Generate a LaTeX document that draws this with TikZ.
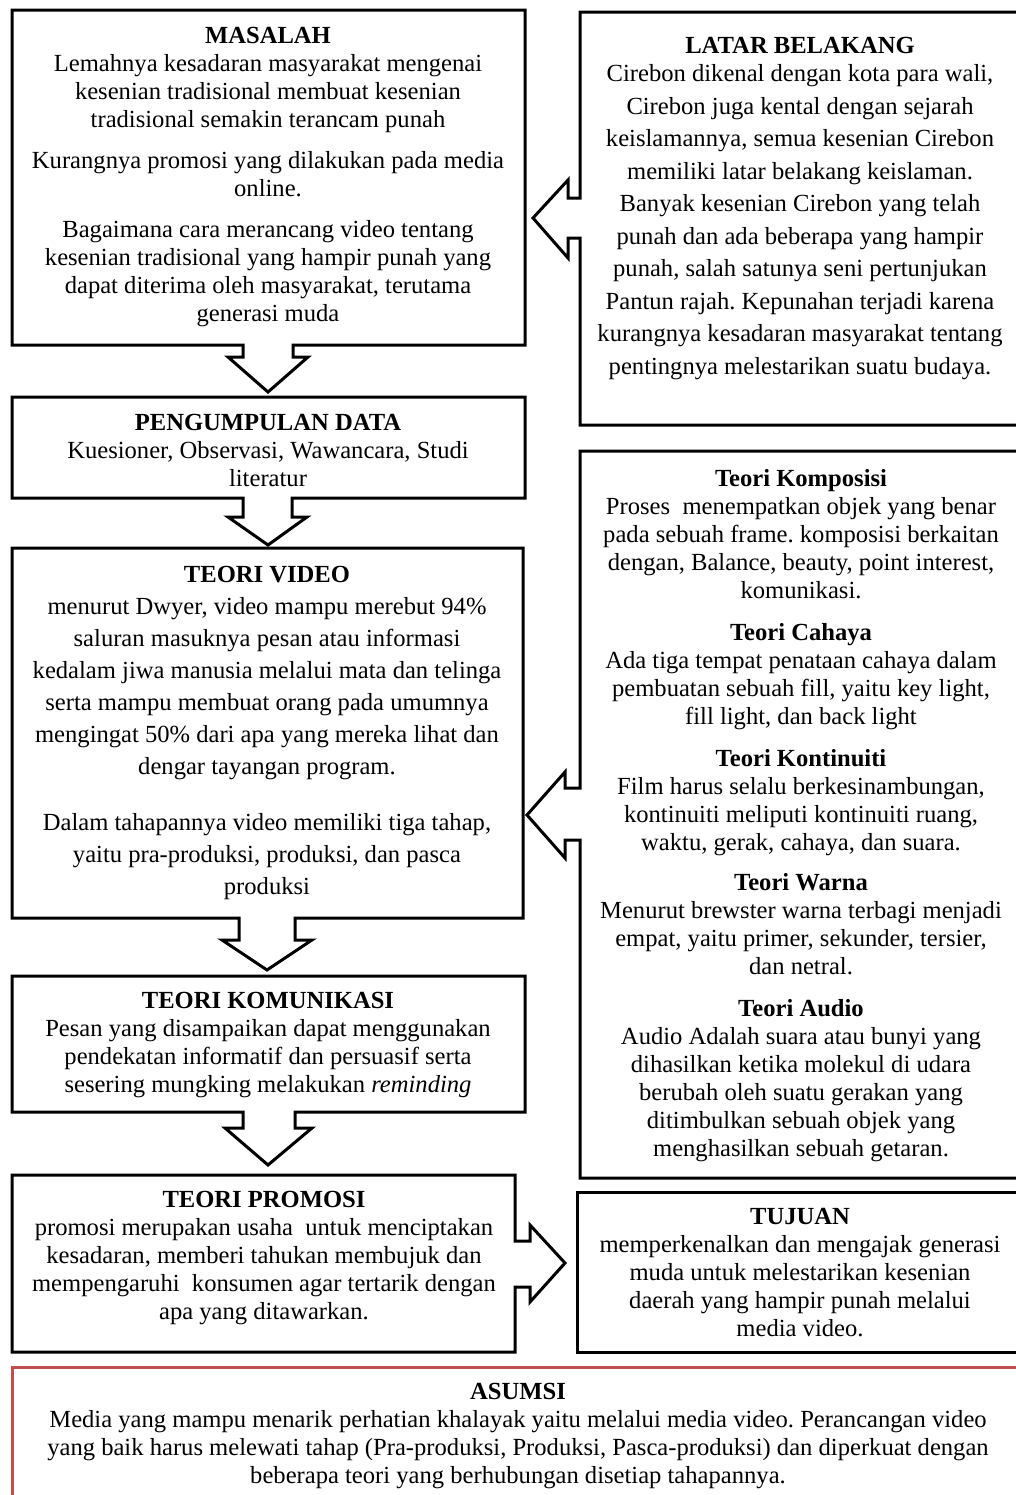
\documentclass[tikz,border=0pt]{standalone}
\usepackage{fontspec}
\setmainfont{Liberation Serif}
\definecolor{asred}{RGB}{192,80,77}
\frenchspacing
\begin{document}
\begin{tikzpicture}[x=0.5pt,y=-0.5pt,
  outline/.style={line width=1.5pt, line join=miter},
  redline/.style={line width=1.5pt, draw=asred},
  txt/.style={align=center, inner sep=0pt, anchor=north, font=\fontsize{12.3pt}{14pt}\selectfont},
  txtwide/.style={txt, font=\fontsize{12.3pt}{16pt}\selectfont},
  txtlatar/.style={txt, font=\fontsize{12.3pt}{16.25pt}\selectfont}]
\useasboundingbox (0,0) rectangle (1016,1495);
\clip (0,0) rectangle (1016,1495);
\fill[white] (0,0) rectangle (1016,1495);

% ---------- left column outlines (boxes with block arrows) ----------
% MASALAH
\draw[outline] (12,10) -- (525,10) -- (525,345) -- (293,345) -- (293,357) -- (308,357)
  -- (268,392) -- (228,357) -- (243,357) -- (243,345) -- (12,345) -- cycle;
% PENGUMPULAN DATA
\draw[outline] (12,397) -- (525,397) -- (525,498) -- (292,498) -- (292,517) -- (307,517)
  -- (268,545) -- (228,517) -- (243,517) -- (243,498) -- (12,498) -- cycle;
% TEORI VIDEO
\draw[outline] (12,548) -- (523,548) -- (523,918) -- (295,918) -- (295,940) -- (312,940)
  -- (267,970) -- (222,940) -- (239,940) -- (239,918) -- (12,918) -- cycle;
% TEORI KOMUNIKASI
\draw[outline] (12,976) -- (525,976) -- (525,1112) -- (295,1112) -- (295,1128) -- (312,1128)
  -- (268,1165) -- (225,1128) -- (243,1128) -- (243,1112) -- (12,1112) -- cycle;
% TEORI PROMOSI
\draw[outline] (12,1175) -- (515,1175) -- (515,1241) -- (530,1241) -- (530,1225)
  -- (565,1263) -- (530,1302) -- (530,1287) -- (515,1287) -- (515,1352) -- (12,1352) -- cycle;

% ---------- right column outlines ----------
% LATAR BELAKANG
\draw[outline] (580,12) -- (1030,12) -- (1030,425) -- (580,425) -- (580,238) -- (568,238)
  -- (568,258) -- (533,218) -- (568,180) -- (568,198) -- (580,198) -- cycle;
% Teori box
\draw[outline] (580,451) -- (1030,451) -- (1030,1178) -- (580,1178) -- (580,840) -- (565,840)
  -- (565,858) -- (527,815) -- (565,772) -- (565,788) -- (580,788) -- cycle;
% TUJUAN
\draw[outline] (577,1192) rectangle (1030,1352);
% ASUMSI
\draw[redline] (12,1367) rectangle (1030,1520);

% ---------- texts ----------
\node[txt] (masalah) at (268,27) {\textbf{MASALAH}\\
Lemahnya kesadaran masyarakat mengenai\\
kesenian tradisional membuat kesenian\\
tradisional semakin terancam punah\\[6.5pt]
Kurangnya promosi yang dilakukan pada media\\
online.\\[6.5pt]
Bagaimana cara merancang video tentang\\
kesenian tradisional yang hampir punah yang\\
dapat diterima oleh masyarakat, terutama\\
generasi muda};

\node[txt] (data) at (268,414) {\textbf{PENGUMPULAN DATA}\\
Kuesioner, Observasi, Wawancara, Studi\\
literatur};

\node[txtwide] (video) at (267,566) {\textbf{TEORI VIDEO}\\
menurut Dwyer, video mampu merebut 94\%\\
saluran masuknya pesan atau informasi\\
kedalam jiwa manusia melalui mata dan telinga\\
serta mampu membuat orang pada umumnya\\
mengingat 50\% dari apa yang mereka lihat dan\\
dengar tayangan program.\\[12pt]
Dalam tahapannya video memiliki tiga tahap,\\
yaitu pra-produksi, produksi, dan pasca\\
produksi};

\node[txt] (komunikasi) at (268,992) {\textbf{TEORI KOMUNIKASI}\\
Pesan yang disampaikan dapat menggunakan\\
pendekatan informatif dan persuasif serta\\
sesering mungking melakukan \textit{reminding}};

\node[txt] (promosi) at (264,1191) {\textbf{TEORI PROMOSI}\\
promosi merupakan usaha\ \ untuk menciptakan\\
kesadaran, memberi tahukan membujuk dan\\
mempengaruhi\ \ konsumen agar tertarik dengan\\
apa yang ditawarkan.};

\node[txtlatar] (latar) at (800,37) {\textbf{LATAR BELAKANG}\\[-2.25pt]
Cirebon dikenal dengan kota para wali,\\
Cirebon juga kental dengan sejarah\\
keislamannya, semua kesenian Cirebon\\
memiliki latar belakang keislaman.\\
Banyak kesenian Cirebon yang telah\\
punah dan ada beberapa yang hampir\\
punah, salah satunya seni pertunjukan\\
Pantun rajah. Kepunahan terjadi karena\\
kurangnya kesadaran masyarakat tentang\\
pentingnya melestarikan suatu budaya.};

\node[txt] (teori) at (801,469) {\textbf{Teori Komposisi}\\
Proses\ \ menempatkan objek yang benar\\
pada sebuah frame. komposisi berkaitan\\
dengan, Balance, beauty, point interest,\\
komunikasi.\\[7pt]
\textbf{Teori Cahaya}\\
Ada tiga tempat penataan cahaya dalam\\
pembuatan sebuah fill, yaitu key light,\\
fill light, dan back light\\[7pt]
\textbf{Teori Kontinuiti}\\
Film harus selalu berkesinambungan,\\
kontinuiti meliputi kontinuiti ruang,\\
waktu, gerak, cahaya, dan suara.\\[6pt]
\textbf{Teori Warna}\\
Menurut brewster warna terbagi menjadi\\
empat, yaitu primer, sekunder, tersier,\\
dan netral.\\[7pt]
\textbf{Teori Audio}\\
Audio Adalah suara atau bunyi yang\\
dihasilkan ketika molekul di udara\\
berubah oleh suatu gerakan yang\\
ditimbulkan sebuah objek yang\\
menghasilkan sebuah getaran.};

\node[txt] (tujuan) at (800,1208) {\textbf{TUJUAN}\\
memperkenalkan dan mengajak generasi\\
muda untuk melestarikan kesenian\\
daerah yang hampir punah melalui\\
media video.};

\node[txt] (asumsi) at (518,1383) {\textbf{ASUMSI}\\
Media yang mampu menarik perhatian khalayak yaitu melalui media video. Perancangan video\\
yang baik harus melewati tahap (Pra-produksi, Produksi, Pasca-produksi) dan diperkuat dengan\\
beberapa teori yang berhubungan disetiap tahapannya.};
\end{tikzpicture}
\end{document}
